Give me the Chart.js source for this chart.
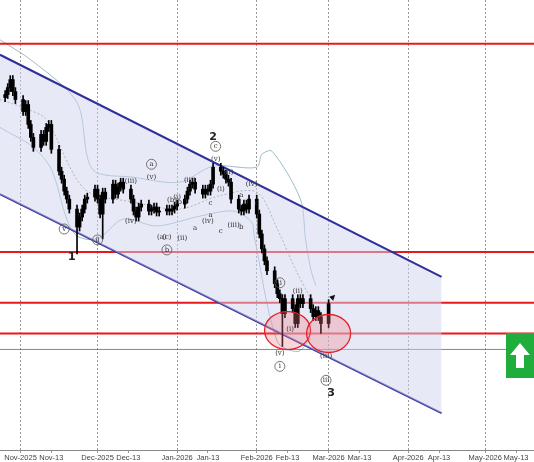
<!DOCTYPE html>
<html>
<head>
<meta charset="utf-8">
<script src="https://cdn.jsdelivr.net/npm/chart.js@4.4.1/dist/chart.umd.min.js"></script>
<style>
  html, body { margin: 0; padding: 0; background: #fff; }
  #wrap { width: 534px; height: 462px; }
</style>
</head>
<body>
<div id="wrap"><canvas id="c" width="534" height="462"></canvas></div>
<script>
// price level in screen-row units (axis is reversed); x in days since 1 Nov 2025
const closes = [95,88,80,92,100,112,105,125,138,148,135,142,128,125,150,172,180,192,200,210,
  228,218,210,200,198,190,200,215,193,200,185,195,188,183,190,200,212,218,208,205,
  212,210,208,213,212,210,212,210,207,205,200,192,185,183,190,195,190,192,185,168,
  172,175,180,183,200,210,212,205,210,200,215,235,250,262,272,285,295,300,315,300,
  310,325,300,305,300,310,318,312,318,325,305];
const longWicks = { 20: 255, 28: 240, 78: 348, 89: 335 };
const tickDays = [0, 12, 30, 42, 61, 73, 92, 104, 120, 132, 151, 163, 181, 193];
const tickLabels = ['Nov-2025','Nov-13','Dec-2025','Dec-13','Jan-2026','Jan-13','Feb-2026','Feb-13',
  'Mar-2026','Mar-13','Apr-2026','Apr-13','May-2026','May-13'];
const monthDays = [0, 30, 61, 92, 120, 151, 181];
const redLevels = [44, 253, 304, 335];
const greyLevel = 351;
const channelUpper = [[-8, 55], [164, 278]];
const channelLower = [[-8, 195], [164, 415]];
const bandUpper = [[-8,40],[5,62],[22,103],[28,170],[44,178],[62,183],[75,167],[92,168],[94,155],[98,152],[109,200],[111,240],[113,270],[115,287]];
const bandLower = [[-8,128],[5,148],[12,170],[18,220],[22,237],[30,240],[40,220],[53,227],[70,217],[83,212],[90,223],[91,237],[100,343],[108,353],[113,340]];
const bandMid = [[-8,100],[3,110],[10,120],[25,190],[44,203],[62,210],[77,197],[92,193],[100,230],[107,270],[113,300]];
const waveLabels = [
  ['1', 20, 258, 'big'], ['2', 75, 138, 'big'], ['3', 121, 395, 'big'],
  ['v', 17, 230, 'circ'], ['ii', 30, 241, 'circ'], ['iii', 43, 182, 'par'], ['a', 51, 165, 'circ'],
  ['v', 51, 178, 'par'], ['iv', 43, 222, 'par'], ['b', 59, 201, 'par'], ['i', 61, 198, 'par'],
  ['a', 55, 238, 'par'], ['c', 57, 238, 'par'], ['b', 57, 251, 'circ'], ['ii', 63, 239, 'par'],
  ['c', 76, 147, 'circ'], ['v', 76, 160, 'par'], ['iii', 66, 181, 'par'], ['iv', 73, 222, 'par'],
  ['i', 78, 190, 'par'], ['ii', 81, 173, 'par'], ['iv', 90, 185, 'par'], ['iii', 83, 226, 'par'],
  ['ii', 101, 284, 'circ'], ['ii', 108, 292, 'par'], ['i', 105, 331, 'par'], ['v', 101, 355, 'par'],
  ['i', 101, 368, 'circ'], ['iii', 119, 358, 'par'], ['iii', 119, 382, 'circ'],
  ['a', 68, 229, 'txt'], ['c', 78, 232, 'txt'], ['b', 62, 203, 'txt'], ['a', 74, 216, 'txt'], ['c', 74, 204, 'txt'],
  ['a', 86, 196, 'txt'], ['c', 92, 204, 'txt'], ['b', 86, 228, 'txt']
];

const startDay = -7;
const candleDays = [];
let d = startDay;
while (candleDays.length < closes.length) {
  const wd = ((d % 7) + 7 + 6) % 7; // 1 Nov 2025 is Saturday
  if (wd < 5) candleDays.push(d);
  d++;
}
const bodies = closes.map((c, i) => ({ x: candleDays[i], y: [i ? closes[i - 1] : c + 3, c] }));
const wicks = closes.map((c, i) => {
  const o = i ? closes[i - 1] : c + 3;
  return { x: candleDays[i], y: [Math.min(o, c) - 4, longWicks[i] || Math.max(o, c) + 4] };
});
const pts = arr => arr.map(p => ({ x: p[0], y: p[1] }));
const hline = (v, col, w) => ({ type: 'line', data: [{ x: -8, y: v }, { x: 200, y: v }], borderColor: col, borderWidth: w, pointRadius: 0 });

const overlay = {
  id: 'overlay',
  afterDatasetsDraw(chart) {
    const { ctx, scales: { x, y } } = chart;
    ctx.save();
    [[104, 332, 23, 19], [120, 335, 22, 19]].forEach(e => {
      ctx.beginPath();
      ctx.ellipse(x.getPixelForValue(e[0]), y.getPixelForValue(e[1]), e[2], e[3], 0, 0, Math.PI * 2);
      ctx.fillStyle = 'rgba(240,120,130,0.3)';
      ctx.fill();
      ctx.strokeStyle = '#e0202a';
      ctx.lineWidth = 1.3;
      ctx.stroke();
    });
    ctx.textAlign = 'center';
    ctx.textBaseline = 'middle';
    waveLabels.forEach(([t, dx, v, kind]) => {
      const px = x.getPixelForValue(dx), py = y.getPixelForValue(v);
      if (kind === 'big') {
        ctx.font = 'bold 11px "DejaVu Sans"';
        ctx.fillStyle = '#222';
        ctx.fillText(t, px, py);
        return;
      }
      ctx.font = '7px "DejaVu Serif"';
      ctx.fillStyle = '#333';
      if (kind === 'circ') {
        ctx.beginPath();
        ctx.arc(px, py, 5, 0, Math.PI * 2);
        ctx.strokeStyle = '#555';
        ctx.lineWidth = 0.8;
        ctx.stroke();
        ctx.fillText(t, px, py);
      } else if (kind === 'par') {
        ctx.fillText('(' + t + ')', px, py);
      } else {
        ctx.fillText(t, px, py);
      }
    });
    const ax = x.getPixelForValue(121), ay = y.getPixelForValue(300);
    ctx.fillStyle = '#111';
    ctx.beginPath();
    ctx.moveTo(ax + 4, ay - 4); ctx.lineTo(ax - 2, ay - 2); ctx.lineTo(ax + 2, ay + 2);
    ctx.fill();
    ctx.fillStyle = '#1fae3c';
    ctx.fillRect(506, 333, 28, 45);
    ctx.fillStyle = '#fff';
    ctx.beginPath();
    ctx.moveTo(520, 343); ctx.lineTo(530, 355); ctx.lineTo(524, 355); ctx.lineTo(524, 368);
    ctx.lineTo(516, 368); ctx.lineTo(516, 355); ctx.lineTo(510, 355); ctx.closePath();
    ctx.fill();
    ctx.restore();
  }
};

new Chart(document.getElementById('c'), {
  data: {
    datasets: [
      { type: 'line', data: pts(channelUpper), borderColor: '#2e2f9a', borderWidth: 2, pointRadius: 0, fill: '+1', backgroundColor: 'rgba(210,212,240,0.5)' },
      { type: 'line', data: pts(channelLower), borderColor: '#2e2f9a', borderWidth: 2, pointRadius: 0 },
      hline(redLevels[0], '#e8191e', 2), hline(redLevels[1], '#e8191e', 2),
      hline(redLevels[2], '#e8191e', 2), hline(redLevels[3], '#e8191e', 2),
      hline(greyLevel, '#666', 0.8),
      { type: 'line', data: pts(bandUpper), borderColor: '#9cbcc8', borderWidth: 1, pointRadius: 0, tension: 0.3 },
      { type: 'line', data: pts(bandLower), borderColor: '#9cbcc8', borderWidth: 1, pointRadius: 0, tension: 0.3 },
      { type: 'line', data: pts(bandMid), borderColor: '#777', borderWidth: 0.8, borderDash: [2, 2], pointRadius: 0, tension: 0.3 },
      { type: 'bar', data: wicks, backgroundColor: '#000', barThickness: 1, grouped: false, order: -1 },
      { type: 'bar', data: bodies, backgroundColor: '#000', barThickness: 3, grouped: false, order: -2 }
    ]
  },
  options: {
    responsive: false,
    animation: false,
    layout: { padding: 0 },
    plugins: { legend: { display: false }, tooltip: { enabled: false } },
    scales: {
      x: {
        type: 'linear', min: -8, max: 200, offset: false,
        afterBuildTicks: s => { s.ticks = tickDays.map(v => ({ value: v })); },
        ticks: {
          autoSkip: false, maxRotation: 0, padding: 0, color: '#444',
          font: { size: 7.5, family: 'Liberation Sans' },
          callback: (v) => tickLabels[tickDays.indexOf(v)]
        },
        grid: {
          offset: false,
          color: ctx => monthDays.includes(ctx.tick && ctx.tick.value) ? '#999' : 'rgba(0,0,0,0)',
          tickColor: '#999', tickLength: 3
        },
        border: { color: '#888', dash: [2, 2] }
      },
      y: { display: false, reverse: true, min: 0, max: 452 }
    }
  },
  plugins: [overlay]
});
</script>
</body>
</html>
